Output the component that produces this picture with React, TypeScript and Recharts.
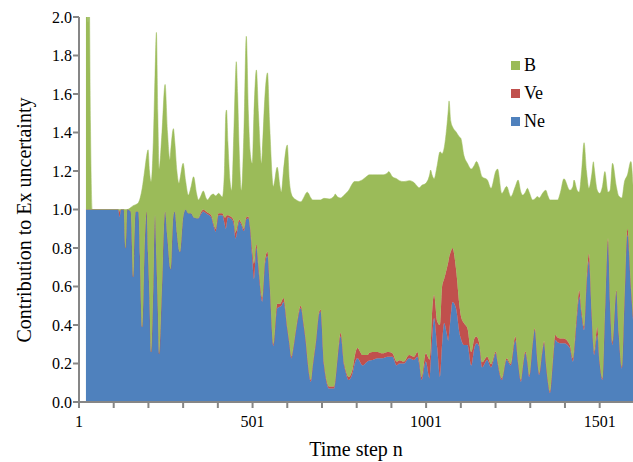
import React from 'react';
import { AreaChart, Area, XAxis, YAxis, Legend } from 'recharts';

// time step n
const steps = [
  21, 24, 27, 30, 34, 39, 60, 90, 114, 118, 122, 130, 135, 140, 150, 157, 164, 172, 183, 190,
  196, 200, 204, 209, 215, 220, 224, 228, 232, 240, 249, 256, 263, 265, 273, 277, 283, 289, 292, 301,
  308, 316, 324, 331, 340, 345, 352, 359, 367, 371, 382, 388, 395, 403, 414, 420, 424, 426, 430, 436,
  441, 447, 452, 454, 458, 462, 469, 476, 483, 489, 494, 500, 505, 512, 518, 527, 529, 537, 544, 550,
  561, 572, 580, 584, 590, 601, 607, 613, 616, 627, 640, 648, 655, 659, 669, 674, 683, 693, 697, 707,
  722, 736, 739, 746, 755, 765, 770, 778, 789, 794, 803, 818, 832, 837, 847, 861, 875, 890, 893, 904,
  916, 924, 937, 952, 966, 976, 981, 988, 1000, 1011, 1014, 1018, 1024, 1033, 1041, 1047, 1053, 1060, 1065, 1067,
  1072, 1077, 1087, 1098, 1101, 1110, 1120, 1131, 1140, 1146, 1154, 1162, 1177, 1188, 1202, 1207, 1219, 1233, 1245, 1258,
  1266, 1274, 1279, 1287, 1293, 1298, 1308, 1314, 1322, 1327, 1335, 1341, 1346, 1352, 1358, 1366, 1373, 1380, 1388, 1398,
  1415, 1424, 1427, 1436, 1442, 1449, 1456, 1463, 1470, 1478, 1483, 1485, 1494, 1501, 1509, 1516, 1525, 1531, 1538, 1549,
  1556, 1565, 1572, 1581, 1591, 1597,
];

// Ne contribution
const neValues = [
  1.0, 1.0, 1.0, 1.0, 1.0, 1.0, 1.0, 1.0, 1.0, 0.96, 1.0, 1.0, 0.8, 1.0, 0.99, 0.65, 0.99, 0.99, 0.39, 0.8,
  0.99, 0.77, 0.55, 0.26, 0.6, 0.97, 0.75, 0.5, 0.25, 0.6, 0.99, 0.85, 0.7, 0.69, 0.97, 0.99, 0.88, 0.79, 0.78, 0.96,
  1.0, 0.98, 0.98, 0.96, 0.955, 0.955, 0.975, 0.99, 0.98, 0.975, 0.96, 0.92, 0.885, 0.97, 0.97, 0.93, 0.9, 0.92, 0.96, 0.955,
  0.95, 0.92, 0.85, 0.86, 0.9, 0.937, 0.92, 0.888, 0.95, 0.954, 0.9, 0.75, 0.64, 0.8, 0.69, 0.53, 0.52, 0.72, 0.76, 0.62,
  0.29, 0.487, 0.495, 0.5, 0.52, 0.38, 0.3, 0.227, 0.25, 0.38, 0.487, 0.4, 0.3, 0.22, 0.105, 0.18, 0.3, 0.46, 0.47, 0.19,
  0.07, 0.07, 0.1, 0.227, 0.34, 0.19, 0.15, 0.114, 0.149, 0.19, 0.227, 0.19, 0.21, 0.215, 0.218, 0.227, 0.227, 0.235, 0.235, 0.235,
  0.19, 0.2, 0.2, 0.227, 0.218, 0.235, 0.2, 0.114, 0.21, 0.123, 0.2, 0.32, 0.435, 0.28, 0.13, 0.3, 0.41, 0.36, 0.32, 0.35,
  0.45, 0.52, 0.487, 0.35, 0.33, 0.296, 0.296, 0.19, 0.28, 0.305, 0.287, 0.18, 0.218, 0.18, 0.253, 0.2, 0.114, 0.218, 0.19, 0.32,
  0.2, 0.105, 0.17, 0.253, 0.2, 0.13, 0.3, 0.374, 0.2, 0.14, 0.25, 0.305, 0.2, 0.1, 0.045, 0.2, 0.322, 0.31, 0.305, 0.305,
  0.28, 0.21, 0.25, 0.45, 0.547, 0.45, 0.374, 0.6, 0.73, 0.45, 0.28, 0.244, 0.348, 0.2, 0.114, 0.45, 0.833, 0.5, 0.296, 0.574,
  0.35, 0.175, 0.5, 0.868, 0.59, 0.426,
];

// Ve contribution
const veValues = [
  0, 0, 0, 0, 0, 0, 0, 0, 0, 0.03, 0, 0, 0, 0, 0, 0, 0, 0, 0, 0,
  0, 0, 0, 0, 0, 0, 0, 0, 0, 0, 0, 0, 0, 0, 0, 0, 0, 0, 0, 0,
  0, 0, 0, 0, 0, 0, 0.01, 0.01, 0.01, 0.01, 0.01, 0.01, 0.015, 0.01, 0.01, 0.03, 0.06, 0.05, 0.01, 0.01,
  0.01, 0.02, 0.03, 0.03, 0.02, 0.01, 0.01, 0.012, 0.01, 0.01, 0.01, 0.04, 0.08, 0.02, 0.02, 0.02, 0.02, 0.02, 0.02, 0.01,
  0.01, 0.023, 0.015, 0.02, 0.02, 0.01, 0.01, 0.01, 0.01, 0.01, 0.013, 0.01, 0.01, 0.01, 0.01, 0.01, 0.01, 0.01, 0.01, 0.01,
  0.01, 0.01, 0.01, 0.01, 0.02, 0.01, 0.01, 0.016, 0.021, 0.035, 0.053, 0.054, 0.034, 0.04, 0.042, 0.033, 0.026, 0.025, 0.025, 0.018,
  0.02, 0.017, 0.01, 0.017, 0.017, 0.025, 0.02, 0.016, 0.043, 0.097, 0.08, 0.14, 0.121, 0.14, 0.27, 0.3, 0.23, 0.33, 0.41, 0.4,
  0.33, 0.28, 0.207, 0.137, 0.12, 0.114, 0.087, 0.07, 0.05, 0.035, 0.018, 0.026, 0.017, 0.017, 0.009, 0.01, 0.009, 0.009, 0.009, 0.02,
  0.01, 0.009, 0.01, 0.009, 0.01, 0.009, 0.01, 0.009, 0.01, 0.009, 0.01, 0.01, 0.01, 0.01, 0.009, 0.015, 0.026, 0.025, 0.025, 0.025,
  0.016, 0.017, 0.02, 0.03, 0.033, 0.02, 0.017, 0.03, 0.04, 0.02, 0.015, 0.017, 0.042, 0.01, 0.009, 0.01, 0.017, 0.01, 0.017, 0.006,
  0.01, 0.009, 0.02, 0.032, 0.017, 0.017,
];

// total (Ne + Ve + B) read at the top of the green band
const totalValues = [
  2.3, 2.2, 1.97, 2.2, 1.45, 1.0, 1.0, 1.0, 1.0, 1.0, 1.0, 1.0, 1.0, 1.0, 1.01, 1.02, 1.025, 1.035, 1.11, 1.2,
  1.28, 1.31, 1.2, 1.145, 1.35, 1.7, 1.92, 1.5, 1.21, 1.4, 1.65, 1.4, 1.26, 1.3, 1.42, 1.35, 1.2, 1.136, 1.16, 1.24,
  1.15, 1.075, 1.12, 1.17, 1.08, 1.05, 1.07, 1.096, 1.06, 1.05, 1.075, 1.08, 1.07, 1.084, 1.065, 1.2, 1.5, 1.517, 1.35, 1.15,
  1.1, 1.4, 1.7, 1.768, 1.6, 1.335, 1.1, 1.4, 1.9, 1.5, 1.3, 1.24, 1.5, 1.725, 1.5, 1.24, 1.3, 1.6, 1.71, 1.45,
  1.12, 1.22, 1.12, 1.09, 1.2, 1.335, 1.15, 1.08, 1.067, 1.05, 1.04, 1.06, 1.085, 1.09, 1.06, 1.05, 1.05, 1.05, 1.05, 1.058,
  1.055, 1.07, 1.08, 1.065, 1.06, 1.075, 1.084, 1.1, 1.135, 1.145, 1.145, 1.155, 1.175, 1.18, 1.18, 1.18, 1.18, 1.19, 1.197, 1.17,
  1.16, 1.15, 1.145, 1.15, 1.14, 1.12, 1.113, 1.125, 1.136, 1.18, 1.205, 1.18, 1.16, 1.23, 1.3, 1.29, 1.32, 1.42, 1.52, 1.564,
  1.46, 1.43, 1.404, 1.375, 1.37, 1.28, 1.24, 1.21, 1.23, 1.25, 1.22, 1.17, 1.155, 1.11, 1.2, 1.21, 1.084, 1.12, 1.067, 1.12,
  1.153, 1.09, 1.075, 1.09, 1.11, 1.09, 1.05, 1.055, 1.067, 1.06, 1.08, 1.095, 1.1, 1.07, 1.05, 1.05, 1.05, 1.05, 1.09, 1.16,
  1.1, 1.12, 1.153, 1.1, 1.09, 1.2, 1.347, 1.2, 1.11, 1.18, 1.248, 1.22, 1.1, 1.084, 1.12, 1.197, 1.09, 1.1, 1.24, 1.12,
  1.07, 1.06, 1.14, 1.18, 1.25, 1.127,
];

const xTicks = [1, 101, 201, 301, 401, 501, 601, 701, 801, 901, 1001, 1101, 1201, 1301, 1401, 1501];
const xTickLabels = [1, 501, 1001, 1501];
const yTicks = [0, 0.2, 0.4, 0.6, 0.8, 1.0, 1.2, 1.4, 1.6, 1.8, 2.0];

const seriesNames = ['Ne', 'Ve', 'B'];
const seriesColors = ['#4F81BD', '#C0504D', '#9BBB59'];

const data = steps.map((s, i) => ({
  step: s,
  Ne: neValues[i],
  Ve: veValues[i],
  B: Math.max(0, +(totalValues[i] - neValues[i] - veValues[i]).toFixed(3)),
}));

const FONT = '"Liberation Serif", "Times New Roman", serif';
const AXIS = '#868686';

const legendOrder = [2, 1, 0];

const renderLegend = () => (
  <div style={{ fontFamily: FONT, fontSize: 18, color: '#000' }}>
    {legendOrder.map((i) => (
      <div key={seriesNames[i]} style={{ display: 'flex', alignItems: 'center', height: 28, lineHeight: '28px' }}>
        <span style={{ display: 'inline-block', width: 9, height: 9, background: seriesColors[i], marginRight: 4 }} />
        <span>{seriesNames[i]}</span>
      </div>
    ))}
  </div>
);

export default function App() {
  return (
    <div style={{ position: 'fixed', left: 0, top: 0, width: 633, height: 462, background: '#fff' }}>
      <AreaChart
        width={633}
        height={462}
        data={data}
        margin={{ top: 17, right: 0, bottom: 30, left: 0 }}
      >
        <XAxis
          type="number"
          dataKey="step"
          domain={[1, 1597]}
          allowDataOverflow
          ticks={xTicks}
          tickFormatter={(v: number) => (xTickLabels.includes(v) ? String(v) : '')}
          height={30}
          tickSize={6}
          tickMargin={8}
          axisLine={{ stroke: AXIS, strokeWidth: 2 }}
          tickLine={{ stroke: AXIS, strokeWidth: 2 }}
          tick={{ fill: '#000', fontSize: 16, fontFamily: FONT }}
          interval={0}
          label={{
            value: 'Time step n',
            position: 'insideBottom',
            offset: -24,
            style: { fill: '#000', fontSize: 20, fontFamily: FONT },
          }}
        />
        <YAxis
          type="number"
          domain={[0, 2]}
          allowDataOverflow
          ticks={yTicks}
          tickFormatter={(v: number) => v.toFixed(1)}
          width={79}
          tickSize={6}
          tickMargin={1}
          axisLine={{ stroke: AXIS, strokeWidth: 2 }}
          tickLine={{ stroke: AXIS, strokeWidth: 2 }}
          tick={{ fill: '#000', fontSize: 16, fontFamily: FONT }}
          interval={0}
          label={{
            content: () => (
              <text
                x={24}
                y={220}
                transform="rotate(-90 24 220)"
                textAnchor="middle"
                dominantBaseline="central"
                style={{ fill: '#000', fontSize: 20, fontFamily: FONT }}
              >
                Contribution to Ex uncertainty
              </text>
            ),
          }}
        />
        <Legend
          layout="vertical"
          align="center"
          verticalAlign="middle"
          content={renderLegend}
          wrapperStyle={{ position: 'absolute', left: 511, top: 51, width: 70 }}
        />
        {seriesNames.map((name, i) => (
          <Area
            key={name}
            type="monotone"
            dataKey={name}
            stackId="1"
            stroke={seriesColors[i]}
            strokeWidth={0.5}
            fill={seriesColors[i]}
            fillOpacity={1}
            isAnimationActive={false}
            dot={false}
            activeDot={false}
          />
        ))}
      </AreaChart>
    </div>
  );
}
